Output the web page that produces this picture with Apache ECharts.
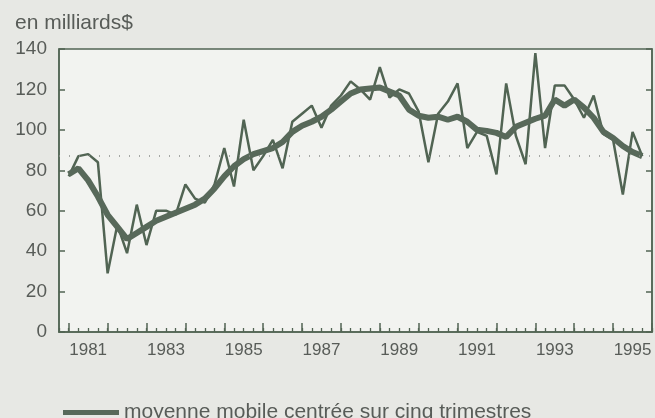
<!DOCTYPE html>
<html>
<head>
<meta charset="utf-8">
<script src="https://cdn.jsdelivr.net/npm/echarts@6/dist/echarts.min.js"></script>
<style>
  html, body { margin: 0; padding: 0; background: #e7e8e4; }
  #chart { width: 655px; height: 418px; }
</style>
</head>
<body>
<div id="chart"></div>
<script>
// Quarterly data, 1981Q1 .. 1995Q4 (milliards $)
const startYear = 1981;
const raw = [
  77, 87, 88, 84,    // 1981
  29, 53, 39, 63,    // 1982
  43, 60, 60, 58,    // 1983
  73, 66, 64, 73,    // 1984
  91, 72, 105, 80,   // 1985
  87, 95, 81, 104,   // 1986
  108, 112, 101, 112,// 1987
  117, 124, 120, 115,// 1988
  131, 116, 120, 118,// 1989
  109, 84, 108, 114, // 1990
  123, 91, 99, 97,   // 1991
  78, 123, 97, 83,   // 1992
  138, 91, 122, 122, // 1993
  115, 106, 117, 98, // 1994
  95, 68, 99, 87     // 1995
];
const movingAvg = [
  78, 81, 75, 67,
  58, 52, 46, 49,
  52, 55, 57, 59,
  61, 63, 66, 71,
  77, 82, 85.5, 88,
  89.5, 91, 94, 99,
  102, 104, 106.5, 110,
  114, 118, 120, 120.5,
  121, 119, 117, 110,
  107, 106, 106.5, 105,
  106.5, 104, 100, 99.5,
  98.5, 96.5, 101.5, 103.5,
  105.5, 107, 115, 112,
  115, 111, 106, 99,
  96, 92, 89, 87
];
const labelYears = [1981, 1983, 1985, 1987, 1989, 1991, 1993, 1995];
const yTicks = [0, 20, 40, 60, 80, 100, 120, 140];
const refLevel = 87;
const unitLabel = 'en milliards$';
const maName = 'moyenne mobile centrée sur cinq trimestres';

const lineColor = '#516453';
const textColor = '#585c58';
const font = 'Liberation Sans, Arial, Helvetica, sans-serif';

const toXY = arr => arr.map((v, i) => [startYear + i / 4, v]);

const gridLeft = 59, gridRight = 3, gridTop = 49, gridHeight = 283;
const plotWidth = 655 - gridLeft - gridRight;
const xMin = 1980.75, xMax = 1996;
const pxPerYear = plotWidth / (xMax - xMin);

const chart = echarts.init(document.getElementById('chart'), null, { renderer: 'canvas' });
chart.setOption({
  backgroundColor: '#e7e8e4',
  animation: false,
  title: {
    text: unitLabel, left: 10, top: 8,
    textStyle: { fontFamily: font, fontSize: 21, fontWeight: 'normal', color: textColor }
  },
  legend: {
    data: [{ name: maName, icon: 'rect' }],
    left: 58, top: 397,
    itemWidth: 56, itemHeight: 5, itemGap: 10,
    textStyle: { fontFamily: font, fontSize: 21, color: textColor }
  },
  grid: [
    { left: gridLeft, right: gridRight, top: gridTop, height: gridHeight,
      show: true, backgroundColor: '#f2f3f0', borderColor: lineColor, borderWidth: 1.5 },
    { left: gridLeft + pxPerYear * (startYear - xMin), right: gridRight, top: gridTop, height: gridHeight,
      show: false }
  ],
  xAxis: [
    {
      gridIndex: 0, type: 'value', min: xMin, max: xMax, interval: 0.25,
      axisLine: { show: true, lineStyle: { color: lineColor, width: 1.5 } },
      axisTick: { show: true, inside: true, length: 4, lineStyle: { color: lineColor, width: 1.3 } },
      splitLine: { show: false },
      axisLabel: {
        show: true, margin: 10, fontFamily: font, fontSize: 17, color: textColor,
        showMinLabel: true, showMaxLabel: true,
        formatter: function (v) {
          const y = Math.round(v - 0.5);
          if (Math.abs(v - 0.5 - y) < 1e-6 && labelYears.indexOf(y) >= 0) return String(y);
          return '';
        }
      }
    },
    {
      gridIndex: 1, type: 'value', min: startYear, max: xMax, interval: 1,
      axisLine: { show: false },
      axisTick: { show: true, inside: true, length: 9, lineStyle: { color: lineColor, width: 1.5 } },
      splitLine: { show: false },
      axisLabel: { show: false }
    }
  ],
  yAxis: [
    {
      gridIndex: 0, type: 'value', min: yTicks[0], max: yTicks[yTicks.length - 1], interval: 20,
      axisLine: { show: true, lineStyle: { color: lineColor, width: 1.5 } },
      axisTick: { show: true, inside: true, length: 6, lineStyle: { color: lineColor, width: 1.5 } },
      splitLine: { show: false },
      axisLabel: { margin: 12, fontFamily: font, fontSize: 19, color: textColor }
    },
    {
      gridIndex: 0, type: 'value', position: 'right', min: yTicks[0], max: yTicks[yTicks.length - 1], interval: 20,
      axisLine: { show: true, lineStyle: { color: lineColor, width: 1.5 } },
      axisTick: { show: true, inside: true, length: 6, lineStyle: { color: lineColor, width: 1.5 } },
      splitLine: { show: false },
      axisLabel: { show: false }
    },
    { gridIndex: 1, type: 'value', min: 0, max: 1, show: false }
  ],
  series: [
    {
      name: 'trimestriel', type: 'line', xAxisIndex: 0, yAxisIndex: 0,
      data: toXY(raw), symbol: 'none', smooth: false,
      lineStyle: { color: lineColor, width: 2.5 },
      markLine: {
        silent: true, symbol: 'none', label: { show: false },
        lineStyle: { color: '#8a8f8a', type: [1, 9], width: 1.5 },
        data: [{ yAxis: refLevel }]
      },
      z: 3
    },
    {
      name: maName, type: 'line', xAxisIndex: 0, yAxisIndex: 0,
      data: toXY(movingAvg), symbol: 'none', smooth: false,
      lineStyle: { color: '#58695a', width: 6 },
      itemStyle: { color: '#58695a' },
      z: 4
    }
  ]
});
</script>
</body>
</html>
